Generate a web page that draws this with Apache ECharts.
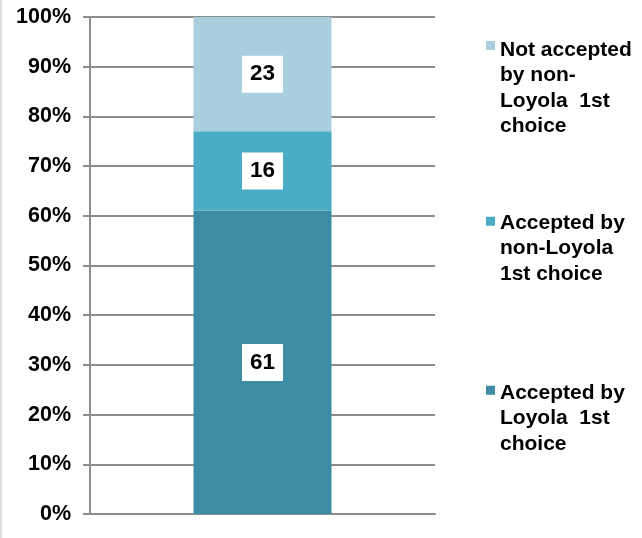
<!DOCTYPE html>
<html>
<head>
<meta charset="utf-8">
<script src="https://cdn.jsdelivr.net/npm/echarts@6/dist/echarts.min.js"></script>
<style>
  html, body { margin: 0; padding: 0; background: #fff; }
  #chart { width: 642px; height: 538px; }
</style>
</head>
<body>
<div id="chart"></div>
<script>
// data
var categories = [''];
var seriesNames = ['Accepted by Loyola 1st choice', 'Accepted by non-Loyola 1st choice', 'Not accepted by non-Loyola 1st choice'];
var legendLines = [
    'Accepted by\nLoyola  1st\nchoice',
    'Accepted by\nnon-Loyola\n1st choice',
    'Not accepted\nby non-\nLoyola  1st\nchoice'
];
var acceptedLoyola = [61];
var acceptedOther = [16];
var notAccepted = [23];
var colors = ['#3d8ca4', '#4bacc6', '#a9cedd'];

var font = 'Arial, "Liberation Sans", sans-serif';

// square marker sitting at the top of a tall (invisible) icon box
function topSquare(h) {
    return 'path://M0,0H9V9H0Z M0,' + (h - 0.01) + 'H0.01V' + h + 'H0Z';
}

function legendFor(i, top, h) {
    return {
        data: [seriesNames[i]],
        orient: 'vertical',
        left: 486,
        top: top,
        padding: 0,
        itemWidth: 9,
        itemHeight: h,
        icon: topSquare(h),
        selectedMode: false,
        formatter: function () { return legendLines[i]; },
        textStyle: {
            fontFamily: font,
            fontWeight: 'bold',
            fontSize: 21,
            lineHeight: 25.5,
            color: '#000'
        }
    };
}

var label = {
    show: true,
    position: 'inside',
    backgroundColor: '#fff',
    padding: [7, 8],
    color: '#000',
    fontFamily: font,
    fontWeight: 'bold',
    fontSize: 22.5
};

var chart = echarts.init(document.getElementById('chart'));
chart.setOption({
    animation: false,
    backgroundColor: '#fff',
    grid: { left: 90, right: 207, top: 17, bottom: 24 },
    legend: [
        legendFor(2, 37, 94),
        legendFor(1, 210, 63),
        legendFor(0, 380, 65)
    ],
    xAxis: {
        type: 'category',
        data: categories,
        axisLine: { show: true, lineStyle: { color: '#8c8c8c', width: 2 } },
        axisTick: { show: false },
        axisLabel: { show: false }
    },
    yAxis: {
        type: 'value',
        min: 0,
        max: 100,
        interval: 10,
        axisLine: { show: true, lineStyle: { color: '#8c8c8c', width: 2 } },
        axisTick: { show: true, length: 7, lineStyle: { color: '#8c8c8c', width: 2 } },
        splitLine: { lineStyle: { color: '#8c8c8c', width: 2 } },
        axisLabel: {
            formatter: '{value}%',
            margin: 19,
            color: '#000',
            fontFamily: font,
            fontWeight: 'bold',
            fontSize: 21.5
        }
    },
    graphic: [{
        type: 'line',
        shape: { x1: 1, y1: 0, x2: 1, y2: 538 },
        style: { stroke: '#bdbdbd', lineWidth: 1 }
    }],
    series: [
        { name: seriesNames[0], type: 'bar', stack: 'all', barWidth: '40%', data: acceptedLoyola, itemStyle: { color: colors[0] }, label: label },
        { name: seriesNames[1], type: 'bar', stack: 'all', barWidth: '40%', data: acceptedOther, itemStyle: { color: colors[1] }, label: label },
        { name: seriesNames[2], type: 'bar', stack: 'all', barWidth: '40%', data: notAccepted, itemStyle: { color: colors[2] }, label: label }
    ]
});
</script>
</body>
</html>
